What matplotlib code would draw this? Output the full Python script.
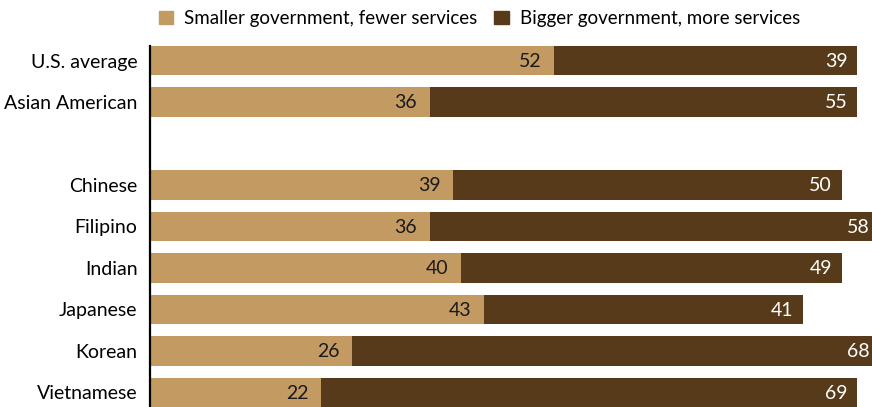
import matplotlib.pyplot as plt
from matplotlib.patches import Patch
import numpy as np

plt.rcParams["font.family"] = ["Lato", "DejaVu Sans"]

# ---- data ----
groups = ["U.S. average", "Asian American", "Chinese", "Filipino",
          "Indian", "Japanese", "Korean", "Vietnamese"]
smaller_gov = [52, 36, 39, 36, 40, 43, 26, 22]
bigger_gov = [39, 55, 50, 58, 49, 41, 68, 69]
# one blank slot between the overall rows and the subgroups
row_pos = [0, 1, 3, 4, 5, 6, 7, 8]

TAN = "#C49A63"
BROWN = "#573A19"
FS = 14

W, H = 872, 407
fig = plt.figure(figsize=(W / 100, H / 100), dpi=100)
ax = fig.add_axes([150 / W, 0, 1 - 150 / W, 1 - 46 / H])

x_max = (W - 150) / 7.77
y = np.array(row_pos)
left = np.array(smaller_gov)
right = np.array(bigger_gov)

ax.barh(y, left, height=0.7, color=TAN, label="Smaller government, fewer services")
ax.barh(y, right, left=left, height=0.7, color=BROWN, label="Bigger government, more services")

for yy, a, b in zip(y, left, right):
    ax.annotate(str(a), (a, yy), xytext=(-9, -0.5), textcoords="offset points",
                ha="right", va="center", fontsize=FS, color="#1a1a1a")
    end = min(a + b, x_max)
    ax.annotate(str(b), (end, yy), xytext=(-7 if a + b < x_max else -2, -0.5),
                textcoords="offset points", ha="right", va="center",
                fontsize=FS, color="white")

ax.set_xlim(0, x_max)
ax.set_ylim(8.35, -0.35)
ax.set_yticks(row_pos)
ax.set_yticklabels(groups, fontsize=FS)
ax.tick_params(axis="y", length=0, pad=9)
ax.set_xticks([])
for side in ["top", "right", "bottom"]:
    ax.spines[side].set_visible(False)
ax.spines["left"].set_linewidth(1.6)
ax.spines["left"].set_color("black")

handles = [Patch(color=TAN), Patch(color=BROWN)]
fig.legend(handles, ["Smaller government, fewer services", "Bigger government, more services"],
           loc="upper left", bbox_to_anchor=(159 / W, 1 - 10 / H), ncol=2,
           frameon=False, fontsize=13.5, borderpad=0, borderaxespad=0,
           handlelength=0.75, handleheight=0.75, handletextpad=0.6,
           columnspacing=0.9)

fig.savefig("out.png", dpi=100)
